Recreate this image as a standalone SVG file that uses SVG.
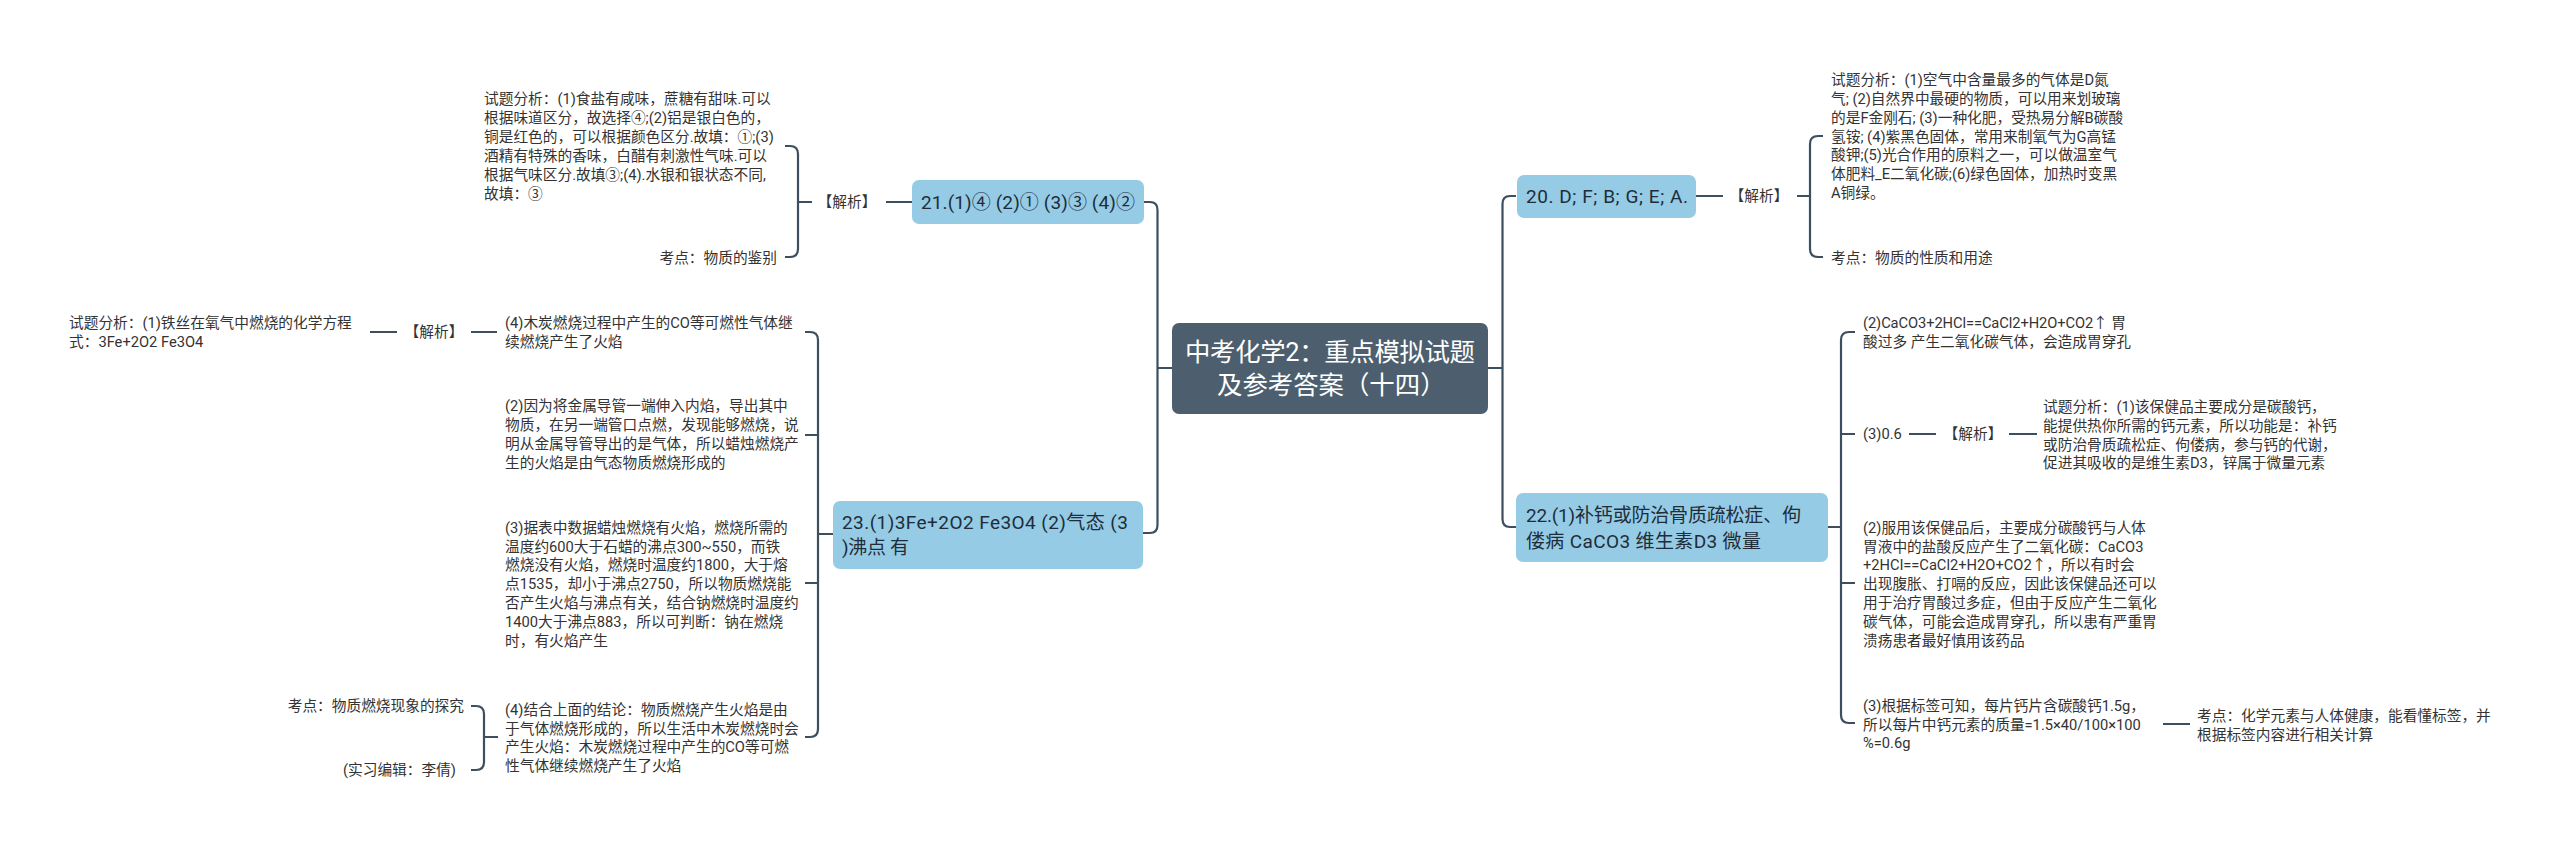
<svg xmlns="http://www.w3.org/2000/svg" width="2560" height="850" viewBox="0 0 2560 850">
<style>
text{font-family:Roboto,"Noto Sans CJK SC",sans-serif;fill:#333;font-size:14.7px;dominant-baseline:central}
.c{fill:none;stroke:#3d4e5e;stroke-width:2.2;stroke-linecap:butt}
.b{fill:#95cbe5}
.bt{font-size:19px;fill:#1f2d3a}
.rt{font-size:25.4px;fill:#fff}
.m{text-anchor:middle}
.e{text-anchor:end}
</style>
<rect width="2560" height="850" fill="#fff"/>
<g id="connectors">
<path class="c" d="M1172 368H1157.500M1144 202H1150Q1157.500 202 1157.500 210V525Q1157.500 533 1150 533H1143"/>
<path class="c" d="M1488 368H1502.500M1516 196H1510Q1502.500 196 1502.500 204V519Q1502.500 527 1510 527H1516"/>
<path class="c" d="M912 202H886M812 202H798M785 146H790Q798 146 798 154V249Q798 257 790 257H785"/>
<path class="c" d="M833 534H818M805 332H810Q818 332 818 340V729Q818 737 810 737H805M805 435H818M805 583H818"/>
<path class="c" d="M497 332H471M397 332H370"/>
<path class="c" d="M498 737H484M471 706H476Q484 706 484 714V762Q484 770 476 770H471"/>
<path class="c" d="M1696 196H1723M1797 196H1810M1823 136H1818Q1810 136 1810 144V249Q1810 257 1818 257H1823"/>
<path class="c" d="M1828 527H1841M1855 332H1849Q1841 332 1841 340V715Q1841 723 1849 723H1855M1841 434H1855M1841 583H1855"/>
<path class="c" d="M1909 434H1936M2009 434H2037M2163 724H2190"/>
</g>
<g id="root"><rect x="1172" y="323" width="316" height="91" rx="7" fill="#4d5f6e"/><text class="rt" x="1185" y="352" textLength="290">中考化学2：重点模拟试题</text><text class="rt" x="1217" y="385">及参考答案（十四）</text></g>
<g id="n21"><rect class="b" x="912" y="180" width="232" height="44" rx="7"/><text class="bt" x="921" y="202" textLength="214">21.(1)④ (2)① (3)③ (4)②</text></g>
<g id="n21j"><text class="m" x="847" y="202">【解析】</text></g>
<g id="n21a"><text x="484" y="99">试题分析：(1)食盐有咸味，蔗糖有甜味.可以</text><text x="484" y="118">根据味道区分，故选择④;(2)铝是银白色的，</text><text x="484" y="137">铜是红色的，可以根据颜色区分.故填：①;(3)</text><text x="484" y="156">酒精有特殊的香味，白醋有刺激性气味.可以</text><text x="484" y="175">根据气味区分.故填③;(4).水银和银状态不同,</text><text x="484" y="194">故填：③</text></g>
<g id="n21b"><text class="e" x="777" y="258">考点：物质的鉴别</text></g>
<g id="n23"><rect class="b" x="833" y="501" width="310" height="68" rx="7"/><text class="bt" x="842" y="522" textLength="286">23.(1)3Fe+2O2 Fe3O4 (2)气态 (3</text><text class="bt" x="842" y="547" textLength="67">)沸点 有</text></g>
<g id="n23-4"><text x="505" y="323">(4)木炭燃烧过程中产生的CO等可燃性气体继</text><text x="505" y="342">续燃烧产生了火焰</text></g>
<g id="n23-4j"><text class="m" x="434" y="332">【解析】</text></g>
<g id="n23-4a"><text x="69" y="323">试题分析：(1)铁丝在氧气中燃烧的化学方程</text><text x="69" y="342">式：3Fe+2O2 Fe3O4</text></g>
<g id="n23-2"><text x="505" y="406">(2)因为将金属导管一端伸入内焰，导出其中</text><text x="505" y="425">物质，在另一端管口点燃，发现能够燃烧，说</text><text x="505" y="444">明从金属导管导出的是气体，所以蜡烛燃烧产</text><text x="505" y="463">生的火焰是由气态物质燃烧形成的</text></g>
<g id="n23-3"><text x="505" y="528">(3)据表中数据蜡烛燃烧有火焰，燃烧所需的</text><text x="505" y="547">温度约600大于石蜡的沸点300~550，而铁</text><text x="505" y="565">燃烧没有火焰，燃烧时温度约1800，大于熔</text><text x="505" y="584">点1535，却小于沸点2750，所以物质燃烧能</text><text x="505" y="603">否产生火焰与沸点有关，结合钠燃烧时温度约</text><text x="505" y="622">1400大于沸点883，所以可判断：钠在燃烧</text><text x="505" y="641">时，有火焰产生</text></g>
<g id="n23-5"><text x="505" y="710">(4)结合上面的结论：物质燃烧产生火焰是由</text><text x="505" y="729">于气体燃烧形成的，所以生活中木炭燃烧时会</text><text x="505" y="747">产生火焰：木炭燃烧过程中产生的CO等可燃</text><text x="505" y="766">性气体继续燃烧产生了火焰</text></g>
<g id="n23-5a"><text class="e" x="464" y="706">考点：物质燃烧现象的探究</text></g>
<g id="n23-5b"><text class="e" x="456" y="770">(实习编辑：李倩)</text></g>
<g id="n20"><rect class="b" x="1517" y="175" width="179" height="43" rx="7"/><text class="bt" x="1526" y="196" textLength="162">20. D; F; B; G; E; A.</text></g>
<g id="n20j"><text class="m" x="1759" y="196">【解析】</text></g>
<g id="n20a"><text x="1831" y="80">试题分析：(1)空气中含量最多的气体是D氮</text><text x="1831" y="99">气; (2)自然界中最硬的物质，可以用来划玻璃</text><text x="1831" y="118">的是F金刚石; (3)一种化肥，受热易分解B碳酸</text><text x="1831" y="137">氢铵; (4)紫黑色固体，常用来制氧气为G高锰</text><text x="1831" y="155">酸钾;(5)光合作用的原料之一，可以做温室气</text><text x="1831" y="174">体肥料_E二氧化碳;(6)绿色固体，加热时变黑</text><text x="1831" y="193">A铜绿。</text></g>
<g id="n20b"><text x="1831" y="258">考点：物质的性质和用途</text></g>
<g id="n22"><rect class="b" x="1516" y="493" width="312" height="69" rx="7"/><text class="bt" x="1526" y="515" textLength="275">22.(1)补钙或防治骨质疏松症、佝</text><text class="bt" x="1526" y="541" textLength="235">偻病 CaCO3 维生素D3 微量</text></g>
<g id="n22-1"><text x="1863" y="323" textLength="263">(2)CaCO3+2HCl==CaCl2+H2O+CO2↑ 胃</text><text x="1863" y="342">酸过多 产生二氧化碳气体，会造成胃穿孔</text></g>
<g id="n22-2"><text x="1863" y="434">(3)0.6</text></g>
<g id="n22-2j"><text class="m" x="1973" y="434">【解析】</text></g>
<g id="n22-2a"><text x="2043" y="407">试题分析：(1)该保健品主要成分是碳酸钙，</text><text x="2043" y="426">能提供热你所需的钙元素，所以功能是：补钙</text><text x="2043" y="445">或防治骨质疏松症、佝偻病，参与钙的代谢，</text><text x="2043" y="463">促进其吸收的是维生素D3，锌属于微量元素</text></g>
<g id="n22-3"><text x="1863" y="528">(2)服用该保健品后，主要成分碳酸钙与人体</text><text x="1863" y="547">胃液中的盐酸反应产生了二氧化碳：CaCO3</text><text x="1863" y="565">+2HCl==CaCl2+H2O+CO2↑，所以有时会</text><text x="1863" y="584">出现腹胀、打嗝的反应，因此该保健品还可以</text><text x="1863" y="603">用于治疗胃酸过多症，但由于反应产生二氧化</text><text x="1863" y="622">碳气体，可能会造成胃穿孔，所以患有严重胃</text><text x="1863" y="641">溃疡患者最好慎用该药品</text></g>
<g id="n22-4"><text x="1863" y="706">(3)根据标签可知，每片钙片含碳酸钙1.5g，</text><text x="1863" y="725">所以每片中钙元素的质量=1.5×40/100×100</text><text x="1863" y="743">%=0.6g</text></g>
<g id="n22-4a"><text x="2197" y="716">考点：化学元素与人体健康，能看懂标签，并</text><text x="2197" y="735">根据标签内容进行相关计算</text></g>
</svg>
